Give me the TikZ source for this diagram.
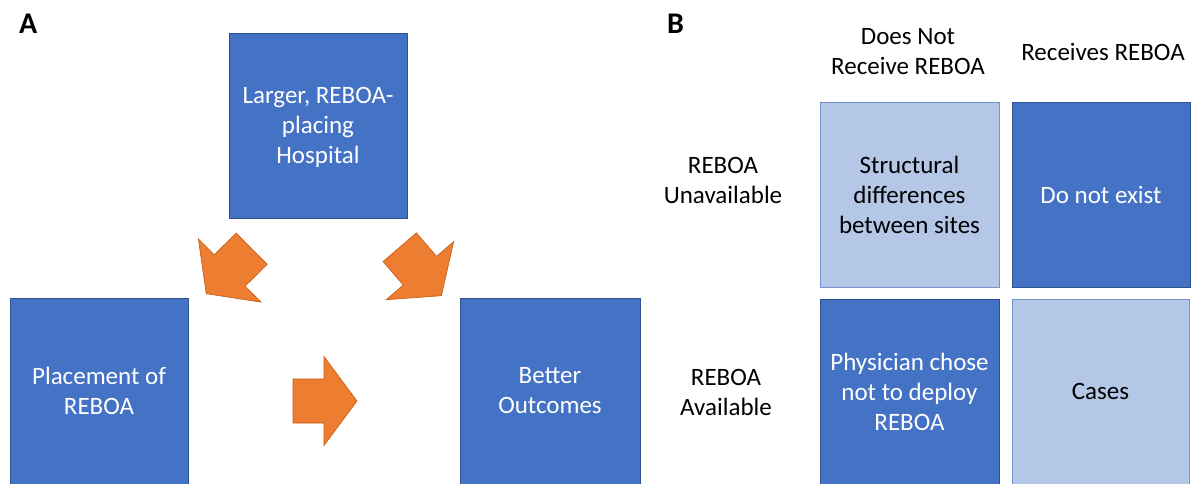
\documentclass[tikz,border=0pt]{standalone}
\usepackage{fontspec}
\setmainfont{Carlito}
\definecolor{boxdark}{HTML}{4472C4}
\definecolor{boxdarkline}{HTML}{2F528F}
\definecolor{boxlight}{HTML}{B4C7E7}
\definecolor{boxlightline}{HTML}{7492CC}
\definecolor{arrowfill}{HTML}{ED7D31}
\definecolor{arrowline}{HTML}{C55A11}
\tikzset{
  txt/.style={font=\fontsize{25}{30}\selectfont, align=center, inner sep=0pt},
  darkbox/.style={txt, rectangle, fill=boxdark, draw=boxdarkline, line width=0.8pt, text=white},
  lightbox/.style={txt, rectangle, fill=boxlight, draw=boxlightline, line width=0.8pt, text=black},
  panel/.style={font=\fontsize{30}{32}\bfseries\selectfont, inner sep=0pt, anchor=base west},
  blockarrow/.style={fill=arrowfill, draw=arrowline, line width=0.6pt, line join=miter}
}
% line without its descender depth
\newcommand{\nodepth}[1]{\raisebox{0pt}[\height][0pt]{#1}}
% block arrow: tail centre, canvas angle
\newcommand{\blockarrowat}[2]{%
  \begin{scope}[shift={#1}, rotate=#2]
    \filldraw[blockarrow] (0,-22) -- (31,-22) -- (31,-44.5) -- (64,0)
      -- (31,44.5) -- (31,22) -- (0,22) -- cycle;
  \end{scope}}
\begin{document}
\begin{tikzpicture}[x=1pt, y=-1pt]
  \useasboundingbox (0,0) rectangle (1192,483);

  % Panel A
  \node[panel] (labA) at (19,33) {A};
  \node[darkbox, minimum width=178pt, minimum height=185pt] (hosp) at (318,125.5)
    {Larger, REBOA-\\placing\\\nodepth{Hospital}};
  \node[darkbox, minimum width=178pt, minimum height=186pt] (place) at (99,391)
    {Placement of\\REBOA};
  \node[darkbox, minimum width=180pt, minimum height=186pt] (outc) at (550,391)
    {Better\\Outcomes};

  \coordinate (tailL) at (251.7,248.7);
  \coordinate (tailR) at (399.7,247.2);
  \coordinate (tailM) at (293,401);
  \blockarrowat{(tailL)}{224.7}
  \blockarrowat{(tailR)}{-49.3}
  \blockarrowat{(tailM)}{0}

  % Panel B
  \node[panel] (labB) at (667,33) {B};
  \node[txt] (colno) at (908,51.5) {Does Not\\Receive REBOA};
  \node[txt] (colyes) at (1103,52) {Receives REBOA};
  \node[txt] (rowun) at (723,180) {REBOA\\Unavailable};
  \node[txt] (rowav) at (726,392) {REBOA\\Available};

  \node[lightbox, minimum width=179pt, minimum height=185pt] (c11) at (909.5,194.5)
    {Structural\\differences\\between sites};
  \node[darkbox, minimum width=178pt, minimum height=185pt] (c12) at (1101,194.5)
    {Do not exist};
  \node[darkbox, minimum width=179pt, minimum height=185pt] (c21) at (909.5,391.5)
    {Physician chose\\not to deploy\\REBOA};
  \node[lightbox, minimum width=177pt, minimum height=185pt] (c22) at (1100.5,391.5)
    {Cases};
\end{tikzpicture}
\end{document}
